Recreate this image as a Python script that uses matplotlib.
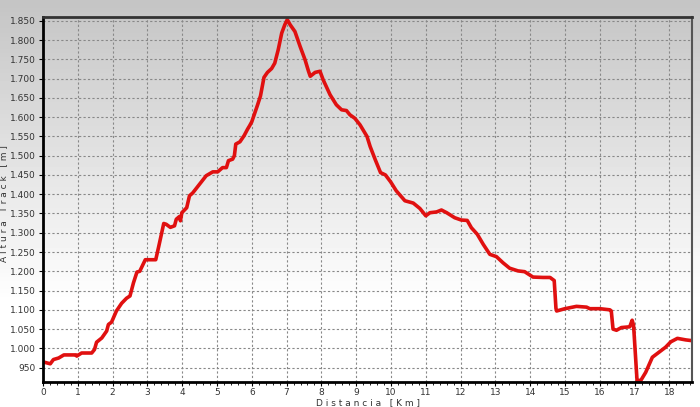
import numpy as np
import matplotlib.pyplot as plt
from matplotlib.ticker import FuncFormatter, MultipleLocator

# Perfil de altura del track (distancia en km, altura en m)
dist_km = [0.0, 0.21, 0.3, 0.45, 0.6, 0.95, 0.97, 1.11, 1.4, 1.48, 1.54, 1.69, 1.83, 1.88, 1.97,
           2.11, 2.26, 2.4, 2.5, 2.6, 2.7, 2.78, 2.94, 3.24, 3.33, 3.47, 3.54, 3.66, 3.78, 3.83,
           3.92, 3.95, 3.99, 4.13, 4.21, 4.3, 4.5, 4.69, 4.88, 5.02, 5.16, 5.27, 5.33, 5.45,
           5.5, 5.54, 5.66, 5.78, 5.88, 5.94, 6.0, 6.16, 6.25, 6.35, 6.45, 6.57, 6.66, 6.76,
           6.86, 6.95, 7.02, 7.1, 7.24, 7.39, 7.53, 7.63, 7.68, 7.82, 7.96, 8.05, 8.25, 8.43,
           8.58, 8.72, 8.82, 8.96, 9.11, 9.31, 9.4, 9.55, 9.7, 9.84, 9.99, 10.15, 10.4, 10.64,
           10.83, 11.0, 11.12, 11.31, 11.45, 11.6, 11.83, 12.02, 12.19, 12.31, 12.48, 12.65,
           12.84, 13.03, 13.22, 13.41, 13.65, 13.84, 14.08, 14.37, 14.57, 14.69, 14.74, 14.76,
           15.0, 15.33, 15.62, 15.71, 16.0, 16.29, 16.33, 16.38, 16.48, 16.62, 16.86, 16.93,
           16.97, 17.07, 17.18, 17.32, 17.51, 17.7, 17.89, 18.04, 18.23, 18.47, 18.65]
altura_m = [965, 960, 971, 975, 983, 983, 980, 988, 988, 997, 1016, 1027, 1045, 1062, 1068,
            1097, 1117, 1130, 1136, 1170, 1198, 1200, 1230, 1230, 1266, 1324, 1322, 1314, 1318, 1335,
            1342, 1331, 1352, 1365, 1396, 1403, 1426, 1448, 1458, 1458, 1469, 1469, 1487, 1491,
            1500, 1530, 1536, 1552, 1569, 1578, 1588, 1630, 1655, 1703, 1716, 1726, 1740, 1775,
            1818, 1840, 1853, 1840, 1822, 1783, 1749, 1719, 1706, 1716, 1719, 1697, 1658, 1632,
            1619, 1617, 1606, 1597, 1580, 1550, 1524, 1489, 1456, 1450, 1432, 1409, 1383, 1377,
            1363, 1344, 1352, 1354, 1359, 1352, 1339, 1333, 1332, 1313, 1296, 1270,
            1244, 1238, 1222, 1208, 1201, 1199, 1185, 1184, 1184, 1176, 1104, 1097,
            1103, 1109, 1107, 1103, 1103, 1100, 1097, 1050, 1047, 1054, 1056, 1073,
            1060, 917, 917, 938, 977, 990, 1003, 1017, 1026, 1022, 1020]

fig = plt.figure(figsize=(7.0, 4.07), dpi=100)

# fondo degradado gris -> blanco
bg = fig.add_axes([0, 0, 1, 1], zorder=-10)
grad = np.concatenate([np.linspace(0.77, 1.0, 75), np.ones(25)])
bg.imshow(grad.reshape(-1, 1), cmap='gray', vmin=0, vmax=1, aspect='auto',
          extent=[0, 1, 0, 1], origin='upper')
bg.set_axis_off()

ax = fig.add_axes([0.0614, 0.0607, 0.9272, 0.8968])
ax.set_facecolor('none')
ax.plot(dist_km, altura_m, color='#e01010', lw=2.6, solid_joinstyle='round')

ax.set_xlim(0, 18.65)
ax.set_ylim(912, 1859)
ax.xaxis.set_major_locator(MultipleLocator(1))
ax.xaxis.set_minor_locator(MultipleLocator(0.2))
ax.yaxis.set_major_locator(MultipleLocator(50))
ax.set_ylim(912, 1859)
ax.yaxis.set_major_formatter(FuncFormatter(lambda v, p: f"{v:,.0f}".replace(',', '.')))

ax.grid(True, which='major', color='#888888', linestyle=(0, (2, 2)), linewidth=0.8)
ax.tick_params(which='major', labelsize=6.5, labelcolor='#333333', length=3, width=0.8, pad=2)
ax.tick_params(axis='x', which='major', pad=1)
ax.tick_params(which='minor', length=2, width=0.6)

for s in ['left', 'bottom']:
    ax.spines[s].set_linewidth(2)
    ax.spines[s].set_color('black')
ax.spines['top'].set_linewidth(2)
ax.spines['top'].set_color('#333333')
ax.spines['right'].set_linewidth(1.5)
ax.spines['right'].set_color('#555555')

ax.set_xlabel('D i s t a n c i a   [ K m ]', fontsize=6.5, color='#333333')
ax.set_ylabel('A l t u r a   T r a c k   [ m ]', fontsize=6.5, color='#333333')
ax.xaxis.set_label_coords(0.5, -0.044)
ax.yaxis.set_label_coords(-0.054, 0.49)

plt.savefig('out.png', dpi=100)
